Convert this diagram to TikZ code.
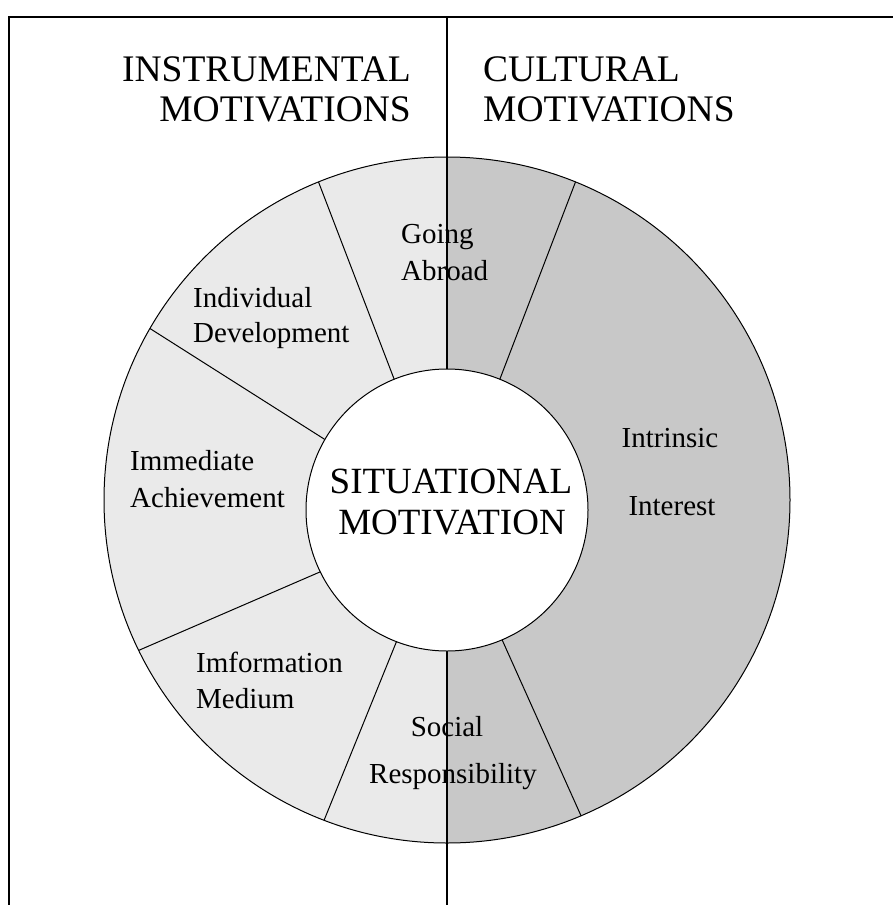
\documentclass[tikz,border=0pt]{standalone}
\usepackage{fontspec}
\setmainfont{Liberation Serif}
\definecolor{paleseg}{HTML}{EAEAEA}
\definecolor{darkseg}{HTML}{C8C8C8}
\begin{document}
\begin{tikzpicture}[x=1pt,y=-1pt,
  headtext/.style={inner sep=0pt,font=\fontsize{37.5}{41}\selectfont},
  bigtext/.style={inner sep=0pt,font=\fontsize{37}{41}\selectfont},
  segtext/.style={inner sep=0pt,font=\fontsize{29}{35}\selectfont},
  ringline/.style={line width=1pt,black},
  frameline/.style={line width=2pt,black},
  divider/.style={line width=1.6pt,black}]
\useasboundingbox (0,0) rectangle (893,905);
% centres of the outer and inner circles
\coordinate (oc) at (447,500);
\coordinate (ic) at (447,510);
% ring background: pale on the left, darker on the right
\begin{scope}
  \clip (0,0) rectangle (447,905);
  \fill[paleseg] (oc) circle (343pt);
\end{scope}
\begin{scope}
  \clip (447,0) rectangle (893,905);
  \fill[darkseg] (oc) circle (343pt);
\end{scope}
% boundaries between the segments
\foreach \a in {68,112,150,206,249,293}
  \draw[ringline] ([shift={(oc)}]-\a:343) -- ([shift={(ic)}]-\a:141);
\draw[ringline] (oc) circle (343pt);
% frame and the vertical divider
\coordinate (topleft) at (9,17);
\coordinate (topright) at (893,17);
\coordinate (bottomleft) at (9,905);
\coordinate (divtop) at (447,17);
\coordinate (divbottom) at (447,905);
\draw[frameline] (bottomleft) -- (topleft) -- (topright);
\draw[divider] (divtop) -- (divbottom);
% centre disc
\fill[white] (ic) circle (141pt);
\draw[ringline] (ic) circle (141pt);
% headings
\node[headtext,anchor=base east] (ins1) at (411,81) {INSTRUMENTAL};
\node[headtext,anchor=base east] (ins2) at (411,121) {MOTIVATIONS};
\node[headtext,anchor=base west] (cul1) at (483,81) {CULTURAL};
\node[headtext,anchor=base west] (cul2) at (483,121) {MOTIVATIONS};
% centre text
\node[bigtext,anchor=base] (sit1) at (451,493) {SITUATIONAL};
\node[bigtext,anchor=base] (sit2) at (452,534) {MOTIVATION};
% segment labels
\node[segtext,anchor=base west] (go1) at (401,243) {Going};
\node[segtext,anchor=base west] (go2) at (401,280) {Abroad};
\node[segtext,anchor=base west] (ind1) at (193,307) {Individual};
\node[segtext,anchor=base west] (ind2) at (193,342) {Development};
\node[segtext,anchor=base west] (imm1) at (130,470) {Immediate};
\node[segtext,anchor=base west] (imm2) at (130,507) {Achievement};
\node[segtext,anchor=base west] (inf1) at (196,672) {Imformation};
\node[segtext,anchor=base west] (inf2) at (196,708) {Medium};
\node[segtext,anchor=base] (soc1) at (447,736) {Social};
\node[segtext,anchor=base] (soc2) at (453,783) {Responsibility};
\node[segtext,anchor=base] (int1) at (670,447) {Intrinsic};
\node[segtext,anchor=base] (int2) at (672,515) {Interest};
\end{tikzpicture}
\end{document}
